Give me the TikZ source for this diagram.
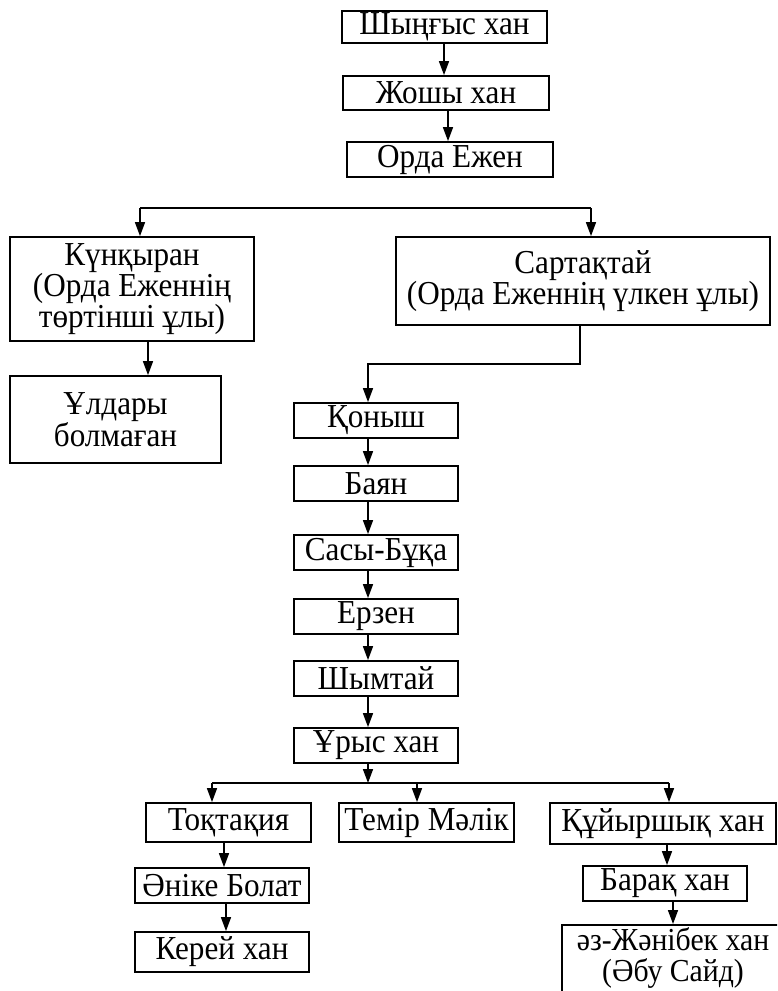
\documentclass[tikz,border=0pt]{standalone}
\usepackage{fontspec}
\setmainfont{Liberation Serif}[FakeStretch=0.93]
\usetikzlibrary{arrows.meta}
\begin{document}
\begin{tikzpicture}[x=1pt,y=-1pt,
  bx/.style={draw, line width=1.8pt, inner sep=0pt, align=center, font=\fontsize{33.5}{30}\selectfont},
  ar/.style={line width=1.6pt, -{Triangle[length=14pt,width=10pt]}},
  ln/.style={line width=1.6pt}]
\useasboundingbox (0,0) rectangle (777,991);
\clip (0,0) rectangle (777,991);
\fill[white] (0,0) rectangle (777,991);
% nodes
\node[bx, minimum width=205pt, minimum height=32pt] (shyn) at (444.5,27) {Шыңғыс хан};
\node[bx, minimum width=206pt, minimum height=34pt] (zhoshy) at (446,93) {Жошы хан};
\node[bx, minimum width=206pt, minimum height=35pt] (orda) at (450,159.5) {Орда Ежен};
\node[bx, minimum width=244pt, minimum height=104pt] (kun) at (132,289) {Күнқыран\\(Орда Еженнің\\төртінші ұлы)};
\node[bx, minimum width=374pt, minimum height=88pt] (sart) at (583,281) {Сартақтай\\(Орда Еженнің үлкен ұлы)};
\node[bx, minimum width=211pt, minimum height=87pt] (uldary) at (115.5,419.5) {Ұлдары\\болмаған};
\node[bx, minimum width=164pt, minimum height=35pt] (qonysh) at (376,420.5) {Қоныш};
\node[bx, minimum width=164pt, minimum height=35pt] (bayan) at (376,483.5) {Баян};
\node[bx, minimum width=164pt, minimum height=35pt] (sasy) at (376,552.5) {Сасы-Бұқа};
\node[bx, minimum width=164pt, minimum height=35pt] (erzen) at (376,616.5) {Ерзен};
\node[bx, minimum width=164pt, minimum height=35pt] (shymtai) at (376,678.5) {Шымтай};
\node[bx, minimum width=164pt, minimum height=35pt] (urys) at (376,745.5) {Ұрыс хан};
\node[bx, minimum width=165pt, minimum height=39pt] (toqt) at (228.5,822.5) {Тоқтақия};
\node[bx, minimum width=175pt, minimum height=39pt] (temir) at (426.5,822.5) {Темір Мәлік};
\node[bx, minimum width=226pt, minimum height=41pt] (quyr) at (663,823.5) {Құйыршық хан};
\node[bx, minimum width=174pt, minimum height=35pt] (anike) at (222,885.5) {Әніке Болат};
\node[bx, minimum width=174pt, minimum height=40pt] (kerei) at (222,952) {Керей хан};
\node[bx, minimum width=164pt, minimum height=35pt] (barak) at (665,883.5) {Барақ хан};
\node[bx, font=\fontsize{32}{31}\selectfont, minimum width=222pt, inner ysep=3pt, text depth=40pt, anchor=north] (zhan) at (673,924) {әз-Жәнібек хан\\(Әбу Сайд)};
% connectors
\draw[ar] ([xshift=-0.5pt]shyn.south) -- ([xshift=-0.5pt]shyn.south |- zhoshy.north);
\draw[ar] ([xshift=2pt]zhoshy.south) -- ([xshift=2pt]zhoshy.south |- orda.north);
\coordinate (bL) at (140,208);
\coordinate (bR) at (591,208);
\draw[ln] (bL) -- (bR);
\draw[ar] (bL) -- (bL |- kun.north);
\draw[ar] (bR) -- (bR |- sart.north);
\draw[ar] ([xshift=16pt]kun.south) -- ([xshift=16pt]kun.south |- uldary.north);
\coordinate (turn) at (368,364);
\draw[ar] ([xshift=-3pt]sart.south) |- (turn) -- (turn |- qonysh.north);
\draw[ar] ([xshift=-8pt]qonysh.south) -- ([xshift=-8pt]bayan.north);
\draw[ar] ([xshift=-8pt]bayan.south) -- ([xshift=-8pt]sasy.north);
\draw[ar] ([xshift=-8pt]sasy.south) -- ([xshift=-8pt]erzen.north);
\draw[ar] ([xshift=-8pt]erzen.south) -- ([xshift=-8pt]shymtai.north);
\draw[ar] ([xshift=-8pt]shymtai.south) -- ([xshift=-8pt]urys.north);
\coordinate (b2) at (368,783);
\draw[ar] ([xshift=-8pt]urys.south) -- (b2);
\coordinate (cL) at (212,783);
\coordinate (cM) at (417,783);
\coordinate (cR) at (669,783);
\draw[ln] (cL) -- (cR);
\draw[ar] (cL) -- (cL |- toqt.north);
\draw[ar] (cM) -- (cM |- temir.north);
\draw[ar] (cR) -- (cR |- quyr.north);
\draw[ar] ([xshift=-4.5pt]toqt.south) -- ([xshift=-4.5pt]toqt.south |- anike.north);
\draw[ar] ([xshift=4pt]anike.south) -- ([xshift=4pt]anike.south |- kerei.north);
\draw[ar] ([xshift=4pt]quyr.south) -- ([xshift=4pt]quyr.south |- barak.north);
\draw[ar] ([xshift=8pt]barak.south) -- ([xshift=8pt]barak.south |- zhan.north);
\end{tikzpicture}
\end{document}
